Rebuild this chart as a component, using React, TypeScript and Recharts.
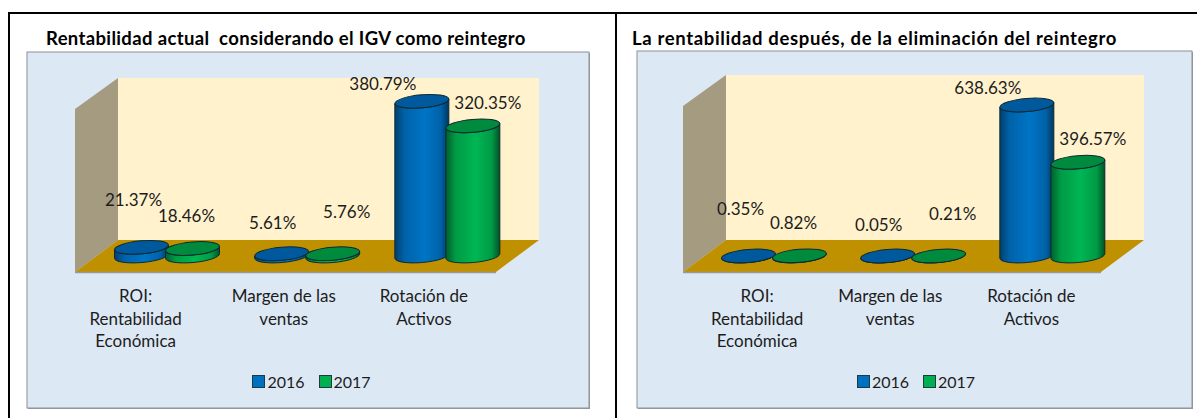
import React from 'react'
import { BarChart, Bar, XAxis, YAxis, Legend, LabelList } from 'recharts'

const categories = ['ROI: Rentabilidad Económica', 'Margen de las ventas', 'Rotación de Activos']
const tickLines = [['ROI:', 'Rentabilidad', 'Económica'], ['Margen de las', 'ventas'], ['Rotación de', 'Activos']]
const seriesNames = ['2016', '2017']

const actual2016 = [21.37, 5.61, 380.79]
const actual2017 = [18.46, 5.76, 320.35]
const after2016 = [0.35, 0.05, 638.63]
const after2017 = [0.82, 0.21, 396.57]

const FONT = 'Lato, sans-serif'
const TEXT = '#1c1c1c'
const BLUE = { body: 'blueBody', top: '#00599c', flat: '#0070c0' }
const GREEN = { body: 'greenBody', top: '#008a3e', flat: '#00b050' }

// hand placed labels in the original, same offsets on both charts (dx, dy from bar top centre)
const labelShift2016 = [[-8, -47], [-9, -31], [-39, -17]]
const labelShift2017 = [[-6, -33], [14, -42], [15, -23]]

const Cylinder = ({ x, y, width, height, body, top }: any) => {
  const rx = width / 2
  const ry = 6.5
  const tilt = 5
  const drop = rx * Math.sin((tilt * Math.PI) / 180)
  const base = y + height
  const cx = x + rx
  const d = `M${x},${y + drop} L${x},${base + drop} A${rx},${ry} ${-tilt} 0 0 ${x + width},${base - drop} L${x + width},${y - drop} A${rx},${ry} ${-tilt} 0 1 ${x},${y + drop} Z`
  return (
    <g>
      <path d={d} fill={`url(#${body})`} stroke="#0c2a33" strokeWidth={1} />
      <ellipse cx={cx} cy={y} rx={rx} ry={ry} fill={top} stroke="#0c2a33" strokeWidth={1} transform={`rotate(${-tilt} ${cx} ${y})`} />
    </g>
  )
}

const CategoryTick = ({ x, y, payload, index, shift }: any) => {
  const lines = tickLines[index] || [payload.value]
  return (
    <text x={x + shift[index]} y={y} fontFamily={FONT} fontSize={17} fill={TEXT} textAnchor="middle">
      {lines.map((line: string, i: number) => (
        <tspan key={line} x={x + shift[index]} y={y + 38 + i * 22.5}>{line}</tspan>
      ))}
    </text>
  )
}

const ValueLabel = ({ x, y, width, value, index, shifts }: any) => (
  <text
    x={x + width / 2 + shifts[index][0]}
    y={y + shifts[index][1] + 6}
    fontFamily={FONT}
    fontSize={17}
    fill={TEXT}
    textAnchor="middle"
  >
    {value.toFixed(2)}%
  </text>
)

const LegendRow = ({ payload, pad }: any) => (
  <div style={{ display: 'flex', justifyContent: 'center', alignItems: 'center', height: 18, paddingLeft: pad, fontFamily: FONT, fontSize: 16, color: TEXT }}>
    {(payload || []).map((item: any) => (
      <span key={item.value} style={{ display: 'flex', alignItems: 'center', marginRight: 14 }}>
        <span style={{ width: 11, height: 11, background: item.color, border: '1px solid #1d3b45', marginRight: 2 }} />
        {item.value}
      </span>
    ))}
  </div>
)

const Panel = ({ title, titleX, titleSpacing, box, wall, first, second, max, tickShift }: any) => {
  const data = categories.map((name, i) => ({ name, first: first[i], second: second[i] }))
  return (
    <>
      <div style={{ position: 'absolute', left: titleX, top: 26, fontFamily: FONT, fontWeight: 700, fontSize: 18.5, letterSpacing: titleSpacing, lineHeight: '24px', color: '#000', whiteSpace: 'pre' }}>
        {title}
      </div>
      <svg width={1197} height={418} style={{ position: 'absolute', left: 0, top: 0 }}>
        <rect x={box.x + 1} y={box.y + 1} width={box.w} height={box.h} fill="#9a9a9a" />
        <rect x={box.x} y={box.y} width={box.w} height={box.h} fill="#dde8f5" stroke="#8c9297" />
        <polygon points={`${wall.l},${wall.topFront} ${wall.l + wall.depth},${wall.top} ${wall.l + wall.depth},240 ${wall.l},272`} fill="#a59b80" />
        <rect x={wall.l + wall.depth} y={wall.top} width={wall.w} height={240 - wall.top} fill="#fff2cc" />
        <polygon points={`${wall.l},272 ${wall.l + wall.w},272 ${wall.l + wall.w + wall.depth},240 ${wall.l + wall.depth},240`} fill="#bf9000" />
        <line x1={wall.l} y1={272.5} x2={wall.l + wall.w} y2={272.5} stroke="#9a9a9a" strokeWidth={1.5} />
      </svg>
      <div style={{ position: 'absolute', left: box.x, top: box.y }}>
        <BarChart
          width={box.w}
          height={box.h}
          data={data}
          barSize={54}
          barGap={-3}
          margin={{ top: box.plotTop, left: box.plotLeft, right: box.plotRight, bottom: 18 }}
        >
          <defs>
            <linearGradient id="blueBody" x1="0" y1="0" x2="1" y2="0">
              <stop offset="0" stopColor="#003f6e" />
              <stop offset="0.18" stopColor="#0062a8" />
              <stop offset="0.55" stopColor="#0074c6" />
              <stop offset="0.85" stopColor="#0062a8" />
              <stop offset="1" stopColor="#00375f" />
            </linearGradient>
            <linearGradient id="greenBody" x1="0" y1="0" x2="1" y2="0">
              <stop offset="0" stopColor="#005f2d" />
              <stop offset="0.18" stopColor="#009a45" />
              <stop offset="0.55" stopColor="#00b653" />
              <stop offset="0.85" stopColor="#009a45" />
              <stop offset="1" stopColor="#005228" />
            </linearGradient>
          </defs>
          <XAxis
            dataKey="name"
            axisLine={false}
            tickLine={false}
            interval={0}
            height={box.h - 18 - 18 - (256 - box.y)}
            tick={<CategoryTick shift={tickShift} />}
          />
          <YAxis hide domain={[0, max]} />
          <Legend verticalAlign="bottom" wrapperStyle={{ left: 0, width: box.w }} content={<LegendRow pad={box.legendPad} />} />
          <Bar
            dataKey="first"
            name={seriesNames[0]}
            fill={BLUE.flat}
            isAnimationActive={false}
            shape={(p: any) => <Cylinder {...p} body={BLUE.body} top={BLUE.top} />}
          >
            <LabelList dataKey="first" content={<ValueLabel shifts={labelShift2016} />} />
          </Bar>
          <Bar
            dataKey="second"
            name={seriesNames[1]}
            fill={GREEN.flat}
            isAnimationActive={false}
            shape={(p: any) => <Cylinder {...p} body={GREEN.body} top={GREEN.top} />}
          >
            <LabelList dataKey="second" content={<ValueLabel shifts={labelShift2017} />} />
          </Bar>
        </BarChart>
      </div>
    </>
  )
}

export default function App() {
  return (
    <div style={{ position: 'absolute', left: 0, top: 0, width: 1197, height: 418, background: '#fff', overflow: 'hidden' }}>
      <div style={{ position: 'absolute', left: 8, top: 12, width: 1189, height: 406, borderTop: '2px solid #000', borderLeft: '2px solid #000', boxSizing: 'border-box' }} />
      <div style={{ position: 'absolute', left: 615, top: 12, width: 2, height: 406, background: '#000' }} />
      <Panel
        title="Rentabilidad actual  considerando el IGV como reintegro"
        titleX={46}
        titleSpacing={0.35}
        box={{ x: 27, y: 52, w: 562, h: 356, plotTop: 41.5, plotLeft: 69.5, plotRight: 72, legendPad: 21 }}
        wall={{ l: 75, w: 421, depth: 43, top: 78, topFront: 109 }}
        first={actual2016}
        second={actual2017}
        max={400}
        tickShift={[-31, -23, -23]}
      />
      <Panel
        title="La rentabilidad después, de la eliminación del reintegro"
        titleX={632}
        titleSpacing={0.65}
        box={{ x: 637, y: 51, w: 555, h: 357, plotTop: 39.5, plotLeft: 67.5, plotRight: 70, legendPad: 17 }}
        wall={{ l: 683, w: 418, depth: 43, top: 75, topFront: 106 }}
        first={after2016}
        second={after2017}
        max={700}
        tickShift={[-17, -23, -21]}
      />
    </div>
  )
}
